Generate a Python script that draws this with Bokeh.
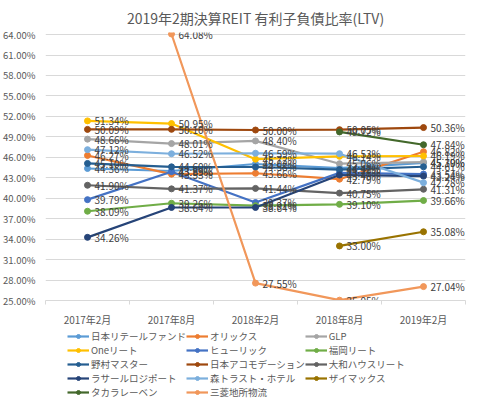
from bokeh.plotting import figure
from bokeh.layouts import column
from bokeh.models import Range1d, FixedTicker, PrintfTickFormatter, Legend, LegendItem, ColumnDataSource
from bokeh.core.properties import value
from bokeh.embed import file_html
from bokeh.resources import INLINE

periods = ["2017年2月", "2017年8月", "2018年2月", "2018年8月", "2019年2月"]
y_ticks = [25, 28, 31, 34, 37, 40, 43, 46, 49, 52, 55, 58, 61, 64]

names = ["日本リテールファンド", "オリックス", "GLP", "Oneリート", "ヒューリック", "福岡リート",
         "野村マスター", "日本アコモデーション", "大和ハウスリート", "ラサールロジポート",
         "森トラスト・ホテル", "ザイマックス", "タカラレーベン", "三菱地所物流"]

nihon_retail = [44.36, 43.99, 45.02, 44.42, 45.19]
orix = [46.27, 43.53, 43.66, 42.79, 46.82]
glp = [48.66, 48.01, 48.40, 45.06, 45.30]
one_reit = [51.34, 50.95, 45.72, 46.14, 46.19]
hulic = [39.79, 43.89, 39.37, 43.71, 43.54]
fukuoka = [38.09, 39.26, 38.91, 39.10, 39.66]
nomura = [45.10, 44.60, 44.58, 44.20, 44.61]
accommodation = [50.09, 50.10, 50.00, 50.05, 50.36]
daiwa = [41.90, 41.37, 41.44, 40.75, 41.31]
lasalle = [34.26, 38.64, 38.64, 43.40, 43.24]
mori_hotel = [47.12, 46.52, 46.59, 46.53, 42.28]
ximax = [None, None, None, 33.00, 35.08]
takara = [None, None, None, 49.72, 47.84]
mitsubishi = [None, 64.08, 27.55, 25.05, 27.04]

series_values = [nihon_retail, orix, glp, one_reit, hulic, fukuoka, nomura, accommodation,
                 daiwa, lasalle, mori_hotel, ximax, takara, mitsubishi]
colors = ["#5B9BD5", "#ED7D31", "#A5A5A5", "#FFC000", "#4472C4", "#70AD47",
          "#255E91", "#9E480E", "#636363", "#264478", "#7CAFDD", "#997300",
          "#43682B", "#F1975A"]

JP = "Noto Sans CJK JP"

p = figure(frame_width=420, frame_height=268, output_backend="svg", toolbar_location=None,
           x_range=Range1d(0, len(periods)), y_range=Range1d(25, 64.3),
           min_border_left=40, min_border_right=4, min_border_top=30, min_border_bottom=10)

p.title.text = "2019年2期決算REIT 有利子負債比率(LTV)"
p.title.align = "center"
p.title.text_font = JP
p.title.text_font_size = "14px"
p.title.text_font_style = "normal"
p.title.text_color = "#595959"
p.outline_line_color = None

xs_all = [i + 0.5 for i in range(len(periods))]
label_x, label_y, label_t = [], [], []
for name, vals, col in zip(names, series_values, colors):
    xs = [x for x, v in zip(xs_all, vals) if v is not None]
    ys = [v for v in vals if v is not None]
    src = ColumnDataSource(dict(x=xs, y=ys))
    p.line("x", "y", source=src, line_color=col, line_width=2.2)
    p.scatter("x", "y", source=src, size=6, fill_color=col, line_color=col)
    label_x += xs
    label_y += ys
    label_t += ["%.2f%%" % v for v in ys]

lsrc = ColumnDataSource(dict(x=label_x, y=label_y, t=label_t))
p.text("x", "y", text="t", source=lsrc, x_offset=7, text_baseline="middle",
       text_font=value(JP), text_font_size="10px", text_color="#404040")

p.xaxis.ticker = FixedTicker(ticks=xs_all, minor_ticks=list(range(len(periods) + 1)))
p.xaxis.major_label_overrides = {x: lab for x, lab in zip(xs_all, periods)}
p.xaxis.major_tick_line_color = None
p.xaxis.minor_tick_line_color = "#D9D9D9"
p.xaxis.minor_tick_in = 0
p.xaxis.minor_tick_out = 4
p.xaxis.axis_line_color = "#D9D9D9"
p.xaxis.major_label_text_font = JP
p.xaxis.major_label_text_font_size = "10px"
p.xaxis.major_label_text_color = "#595959"
p.xaxis.major_label_standoff = 5
p.xgrid.grid_line_color = None

p.yaxis.ticker = FixedTicker(ticks=y_ticks)
p.yaxis.formatter = PrintfTickFormatter(format="%.2f%%")
p.yaxis.axis_line_color = None
p.yaxis.major_tick_line_color = None
p.yaxis.minor_tick_line_color = None
p.yaxis.major_label_text_font = JP
p.yaxis.major_label_text_font_size = "9.5px"
p.yaxis.major_label_text_color = "#595959"
p.yaxis.major_label_standoff = 4
p.ygrid.grid_line_color = "#D9D9D9"
p.ygrid.ticker = FixedTicker(ticks=y_ticks)

# legend in its own strip below the chart (helper renderers sit outside the visible range)
lg = figure(width=464, height=70, output_backend="svg", toolbar_location=None,
            x_range=Range1d(0, 1), y_range=Range1d(0, 1),
            x_axis_location=None, y_axis_location=None,
            min_border_left=0, min_border_right=0, min_border_top=0, min_border_bottom=0)
lg.grid.visible = False
lg.outline_line_color = None
items = []
for name, col in zip(names, colors):
    ln = lg.line(x=[-5, -4], y=[-5, -5], line_color=col, line_width=2.2)
    mk = lg.scatter(x=[-5], y=[-5], size=6, fill_color=col, line_color=col)
    items.append(LegendItem(label=name, renderers=[ln, mk]))

legend = Legend(items=items, orientation="horizontal", ncols=3, location=(22, 0),
                label_text_font=JP, label_text_font_size="9.5px", label_text_color="#595959",
                glyph_width=22, glyph_height=10, label_height=10, label_standoff=2,
                spacing=0, padding=0, margin=0, border_line_color=None,
                background_fill_alpha=0)
lg.add_layout(legend, "center")

layout = column(p, lg, spacing=0)
open("out.html", "w").write(file_html(layout, INLINE))
